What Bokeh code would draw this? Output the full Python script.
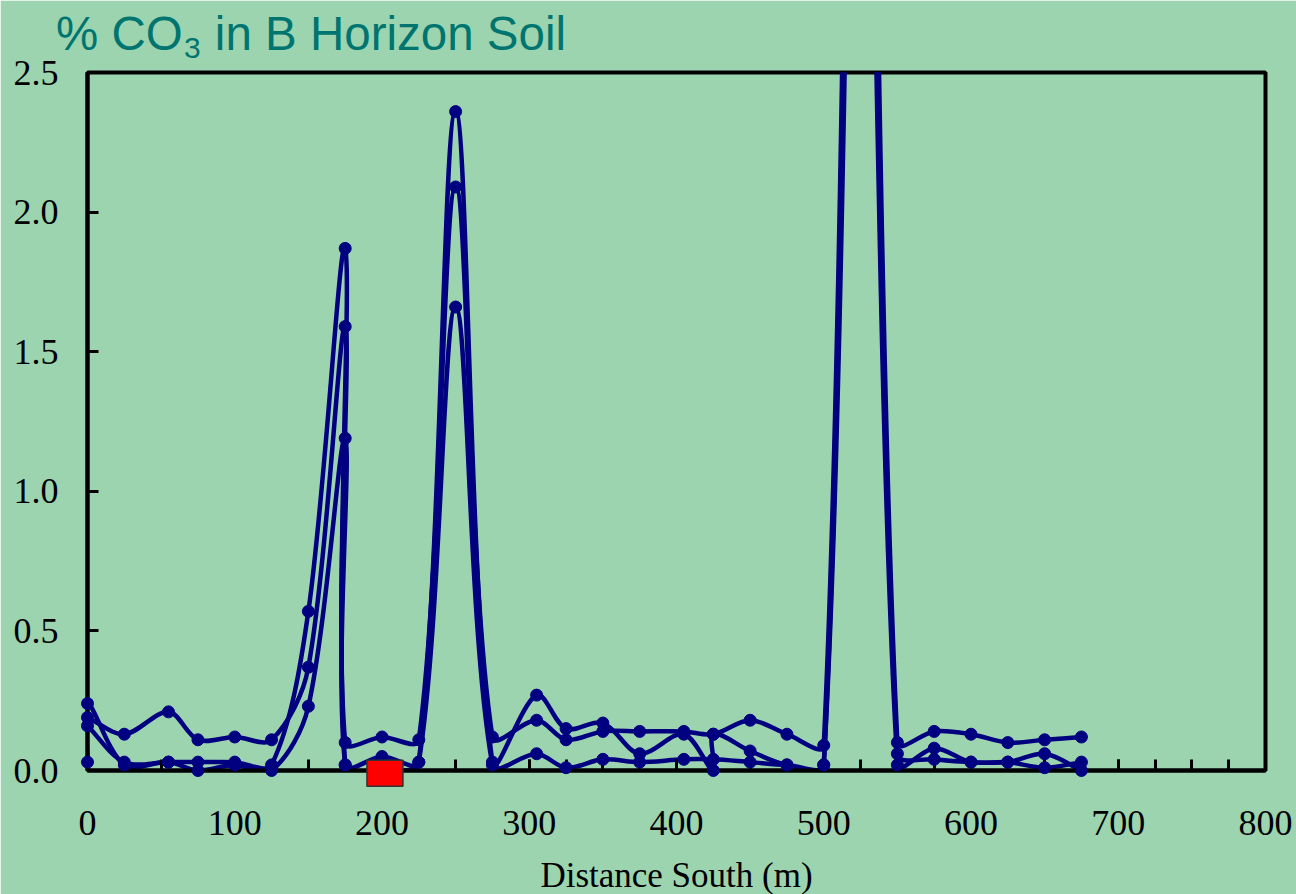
import math
from bokeh.plotting import figure
from bokeh.models import SingleIntervalTicker, NumeralTickFormatter, Range1d
from bokeh.core.properties import value
from bokeh.embed import file_html
from bokeh.resources import INLINE

# ---------------- data ----------------
x_s1 = [0, 25, 55, 75, 100, 125, 150, 175, 175, 200, 225, 250, 275, 305, 325, 350,
        375, 405, 425, 450, 475, 500, 525, 550, 575, 600, 625, 650, 675]
y_s1 = [0.19, 0.13, 0.21, 0.11, 0.12, 0.11, 0.37, 1.59, 0.10, 0.12, 0.11, 2.09, 0.12,
        0.18, 0.11, 0.14, 0.14, 0.14, 0.13, 0.18, 0.13, 0.09, 5.6, 0.10, 0.14, 0.13,
        0.10, 0.11, 0.12]

x_s2 = [0, 25, 55, 75, 100, 125, 150, 175, 175, 200, 225, 250, 275, 305, 325, 350,
        375, 405, 425, 425, 450, 475, 500, 525, 550, 575, 600, 625, 650, 675]
y_s2 = [0.16, 0.03, 0.03, 0.03, 0.03, 0.02, 0.57, 1.87, 0.02, 0.05, 0.03, 2.36, 0.03,
        0.27, 0.15, 0.17, 0.06, 0.13, 0.0, 0.13, 0.07, 0.02, 0.02, 5.0, 0.06, 0.04,
        0.03, 0.03, 0.06, 0.0]

x_s3 = [0, 0, 25, 55, 75, 100, 125, 150, 175, 175, 200, 225, 250, 275, 305, 325, 350,
        375, 405, 425, 450, 475, 500, 525, 550, 575, 600, 625, 650, 675]
y_s3 = [0.03, 0.24, 0.02, 0.03, 0.0, 0.02, 0.0, 0.23, 1.19, 0.02, 0.0, 0.03, 1.66,
        0.02, 0.06, 0.01, 0.04, 0.03, 0.04, 0.04, 0.03, 0.02, 0.02, 4.6, 0.02, 0.08,
        0.03, 0.03, 0.01, 0.03]

marker_x = [202]
marker_y = [-0.01]

title_parts = ["% CO", "3", "in B Horizon Soil"]
x_title = "Distance South (m)"

BG = "#9dd4b0"
NAVY = "#000080"
TEAL = "#00756f"

X0, X1, Y0, Y1 = 0, 800, 0, 2.5
FW, FH = 1178, 698          # frame size in pixels
KX, KY = FW / (X1 - X0), FH / (Y1 - Y0)

p = figure(width=1296, height=894, output_backend="svg", toolbar_location=None,
           x_range=Range1d(X0, X1), y_range=Range1d(Y0, Y1),
           min_border_left=87, min_border_right=31, min_border_top=72,
           min_border_bottom=124)
p.background_fill_color = BG
p.border_fill_color = BG
p.outline_line_color = "black"
p.outline_line_width = 4
p.grid.visible = False

# axes
p.xaxis.ticker = SingleIntervalTicker(interval=100, num_minor_ticks=4)
p.yaxis.ticker = SingleIntervalTicker(interval=0.5, num_minor_ticks=0)
p.yaxis.formatter = NumeralTickFormatter(format="0.0")
for ax in (p.xaxis[0], p.yaxis[0]):
    ax.axis_line_color = "black"
    ax.axis_line_width = 4
    ax.major_tick_line_color = "black"
    ax.major_tick_line_width = 3
    ax.minor_tick_line_color = "black"
    ax.minor_tick_line_width = 3
    ax.major_tick_in = 11
    ax.major_tick_out = 0
    ax.minor_tick_in = 11
    ax.minor_tick_out = 0
    ax.major_label_text_font = "Liberation Serif"
    ax.major_label_text_font_size = "36px"
    ax.major_label_text_color = "black"
p.xaxis.major_label_standoff = 40
p.yaxis.major_label_standoff = 29


def beziers(xs, ys, f=1.0 / 3.0):
    """Smoothed-line segments (chord-proportional cardinal spline, in screen space)."""
    n = len(xs)
    sx = [x * KX for x in xs]
    sy = [y * KY for y in ys]
    out = dict(x0=[], y0=[], x1=[], y1=[], cx0=[], cy0=[], cx1=[], cy1=[])
    outc, inc = [], []
    for i in range(n):
        a = i - 1 if i > 0 else i
        d = i + 1 if i + 1 < n else i
        tx, ty = sx[d] - sx[a], sy[d] - sy[a]
        dp = math.hypot(sx[i] - sx[a], sy[i] - sy[a])
        dn = math.hypot(sx[d] - sx[i], sy[d] - sy[i])
        tot = dp + dn if dp + dn > 0 else 1.0
        outc.append((sx[i] + tx * dn / tot * f, sy[i] + ty * dn / tot * f))
        inc.append((sx[i] - tx * dp / tot * f, sy[i] - ty * dp / tot * f))
    for i in range(n - 1):
        out["x0"].append(xs[i]); out["y0"].append(ys[i])
        out["x1"].append(xs[i + 1]); out["y1"].append(ys[i + 1])
        out["cx0"].append(outc[i][0] / KX); out["cy0"].append(outc[i][1] / KY)
        out["cx1"].append(inc[i + 1][0] / KX); out["cy1"].append(inc[i + 1][1] / KY)
    return out


for xs, ys in ((x_s1, y_s1), (x_s2, y_s2), (x_s3, y_s3)):
    b = beziers(xs, ys)
    p.bezier(line_color=NAVY, line_width=4.5, **b)
for xs, ys in ((x_s1, y_s1), (x_s2, y_s2), (x_s3, y_s3)):
    sc = p.scatter(xs, ys, marker="circle", size=12, fill_color=NAVY, line_color=NAVY)
    sc.level = "overlay"

r = p.rect(x=marker_x, y=marker_y, width=36, height=26, width_units="screen",
           height_units="screen", fill_color="red", line_color="#333333", line_width=1.5)
r.level = "overlay"

# title (three pieces so the subscript can be drawn) and x-axis title
t1 = p.text(x=[-21.4], y=[2.641], text=[title_parts[0]], text_font=value("Liberation Sans"),
            text_font_size="47.5px", text_color=TEAL, text_baseline="alphabetic")
t2 = p.text(x=[65.5], y=[2.586], text=[title_parts[1]], text_font=value("Liberation Sans"),
            text_font_size="30px", text_color=TEAL, text_baseline="alphabetic")
t3 = p.text(x=[86.5], y=[2.641], text=[title_parts[2]], text_font=value("Liberation Sans"),
            text_font_size="47.5px", text_color=TEAL, text_baseline="alphabetic")
t4 = p.text(x=[400], y=[-0.376], text=[x_title], text_font=value("Liberation Serif"),
            text_font_size="35px", text_color="black", text_align="center",
            text_baseline="alphabetic")
for t in (t1, t2, t3, t4):
    t.level = "overlay"

open("out.html", "w").write(file_html(p, INLINE))
